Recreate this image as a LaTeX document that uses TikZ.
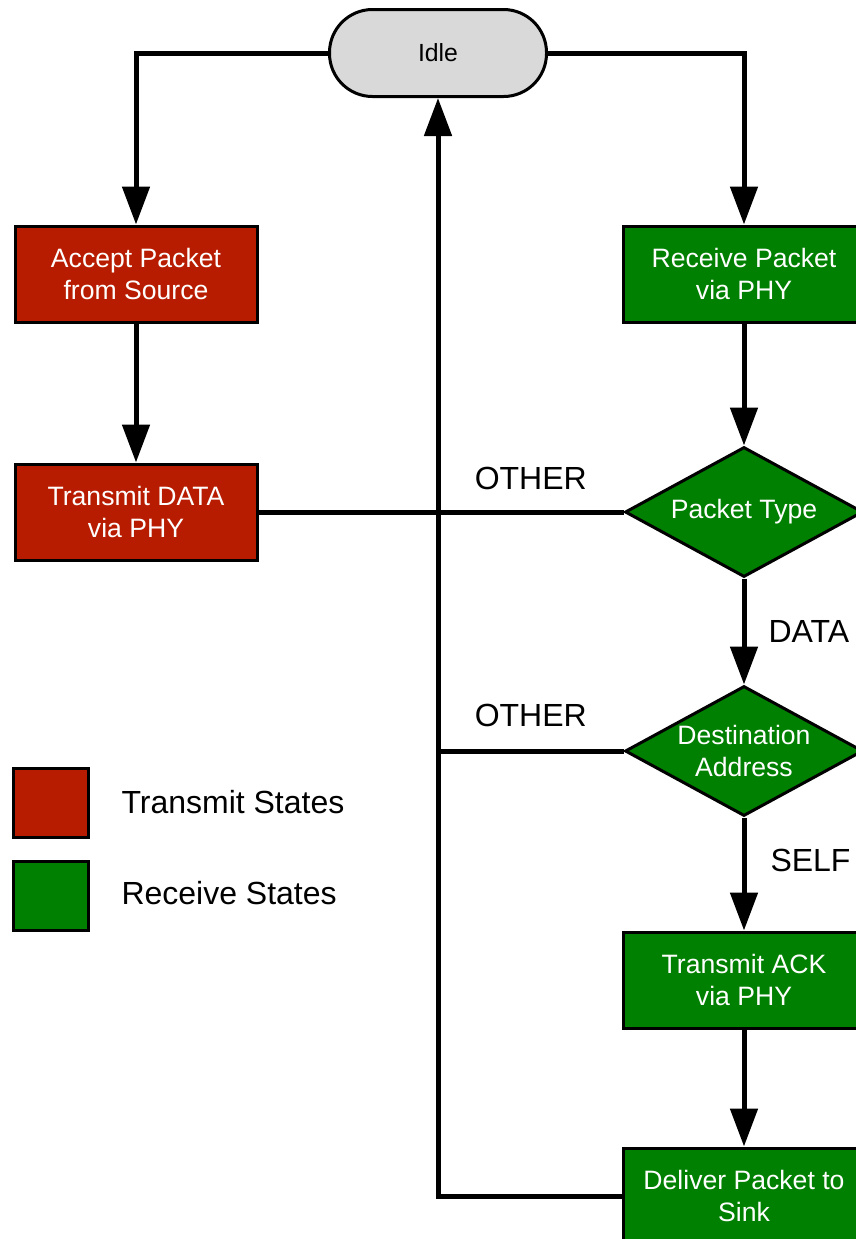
\documentclass[tikz,border=0pt]{standalone}
\usepackage{fontspec}
\setmainfont{Liberation Sans}
\usetikzlibrary{arrows.meta,shapes.geometric}
\definecolor{txred}{RGB}{184,28,0}
\definecolor{rxgreen}{RGB}{0,128,0}
\definecolor{idlegray}{RGB}{217,217,217}
\newlength{\lw}
\setlength{\lw}{2.5pt}
\newlength{\bw}
\setlength{\bw}{1.5pt}
\tikzstyle{every picture}+=[>={Triangle[length=19pt,width=13.5pt]}]
\tikzstyle{every picture}+=[line width=\lw]
\tikzstyle{every picture}+=[line cap=butt]
\tikzstyle{every picture}+=[x=0.5pt,y=-0.5pt]
\tikzstyle{stbox}=[draw,line width=\bw,text=white,align=center,minimum width=121pt,minimum height=48pt,inner sep=0pt,font=\fontsize{13.3}{16}\selectfont]
\tikzstyle{tx}=[stbox,fill=txred]
\tikzstyle{rx}=[stbox,fill=rxgreen]
\tikzstyle{choice}=[rx,diamond,aspect=1.83,minimum width=119pt,minimum height=65pt]
\tikzstyle{idlebox}=[draw,line width=\bw,fill=idlegray,rounded corners=21.5pt,minimum width=108.5pt,minimum height=43.5pt,inner sep=0pt,font=\fontsize{12.4}{15}\selectfont]
\tikzstyle{lbl}=[inner sep=0pt,font=\fontsize{16}{19}\selectfont]
\tikzstyle{key}=[draw,line width=\bw,minimum width=37.5pt,minimum height=34.5pt,inner sep=0pt]

\begin{document}
\begin{tikzpicture}
\useasboundingbox (0,0) rectangle (856,1239);

\node[idlebox] (idle) at (438,53) {Idle};

\node[tx] (accept) at (136,274) {Accept Packet\\from Source};
\node[tx] (txdata) at (136,512) {Transmit DATA\\via PHY};

\node[rx] (recv) at (744,274) {Receive Packet\\via PHY};
\node[choice] (ptype) at (744,512) {Packet Type};
\node[choice] (dest) at (744,751) {Destination\\Address};
\node[rx] (txack) at (744,980) {Transmit ACK\\via PHY};
\node[rx] (deliver) at (744,1196) {Deliver Packet to\\Sink};

\node[key,fill=txred] (keytx) at (50.5,802.5) {};
\node[key,fill=rxgreen] (keyrx) at (50.5,895.5) {};
\node[lbl,anchor=west] (keytxtext) at (119,802) {Transmit States};
\node[lbl,anchor=west] (keyrxtext) at (119,893) {Receive States};

\coordinate (j1) at (idle.south |- ptype.west);
\coordinate (j2) at (idle.south |- dest.west);

\draw[->] (idle.west) -| (accept.north);
\draw[->] (idle.east) -| (recv.north);
\draw[->] (accept) -- (txdata);
\draw[->] (recv) -- (ptype);
\draw[->] (ptype) -- node[lbl,right=11pt] {DATA} (dest);
\draw[->] (dest) -- node[lbl,right=12pt,pos=.38] {SELF} (txack);
\draw[->] (txack) -- (deliver);
\draw[->] (deliver.west) -| (idle.south);
\draw (txdata.east) -- (j1);
\draw (ptype.west) -- node[lbl,above=10pt] {OTHER} (j1);
\draw (dest.west) -- node[lbl,above=11pt] {OTHER} (j2);
\end{tikzpicture}
\end{document}
